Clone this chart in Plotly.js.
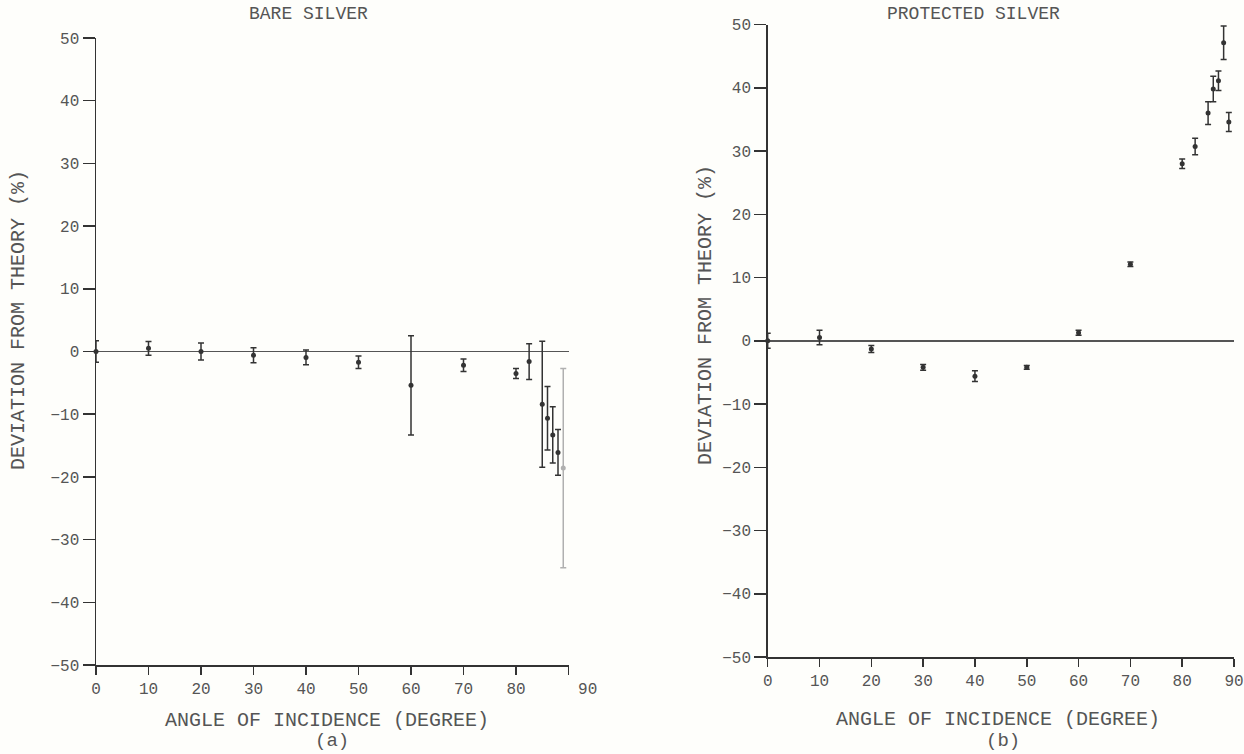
<!DOCTYPE html>
<html>
<head>
<meta charset="utf-8">
<script src="https://cdn.plot.ly/plotly-3.0.1.min.js"></script>
<style>
html,body{margin:0;padding:0;background:#fefefb;}
#chart{width:1244px;height:754px;}
</style>
</head>
<body>
<div id="chart"></div>
<script>
// Panel (a) bare silver
const angleBare = [0, 10, 20, 30, 40, 50, 60, 70, 80, 82.5, 85, 86, 87, 88];
const devBare   = [0, 0.5, 0, -0.6, -0.95, -1.7, -5.4, -2.2, -3.5, -1.6, -8.4, -10.65, -13.3, -16.1];
const errBare   = [1.7, 1.1, 1.35, 1.2, 1.17, 1.0, 7.9, 1.0, 0.8, 2.85, 10.05, 5.05, 4.5, 3.65];
const angleBareFaint = [89];
const devBareFaint   = [-18.6];
const errBareFaint   = [15.9];

// Panel (b) protected silver
const angleProt = [0, 10, 20, 30, 40, 50, 60, 70, 80, 82.5, 85, 86, 87, 88, 89];
const devProt   = [0, 0.5, -1.3, -4.2, -5.6, -4.2, 1.25, 12.1, 28.0, 30.7, 36.0, 39.8, 41.1, 47.1, 34.6];
const errProt   = [1.2, 1.15, 0.55, 0.45, 0.85, 0.3, 0.4, 0.35, 0.75, 1.3, 1.8, 2.0, 1.55, 2.65, 1.5];

const xTicks = [0, 10, 20, 30, 40, 50, 60, 70, 80, 90];
const xTickTextA = ['0', '10', '20', '30', '40', '50', '60', '70', '80', '    90'];
const xTickTextB = ['0', '10', '20', '30', '40', '50', '60', '70', '80', '90'];
const yTicks = [-50, -40, -30, -20, -10, 0, 10, 20, 30, 40, 50];

const panelTitles = ['BARE SILVER', 'PROTECTED SILVER'];
const xTitle = 'ANGLE OF INCIDENCE (DEGREE)';
const yTitle = 'DEVIATION FROM THEORY (%)';
const panelLabels = ['(a)', '(b)'];

const FONT = 'Liberation Mono, DejaVu Sans Mono, monospace';
const INK = '#333';
const TXT = '#555';

function errTrace(x, y, e, xa, ya, color) {
  return {
    type: 'scatter', mode: 'markers', x: x, y: y, xaxis: xa, yaxis: ya,
    cliponaxis: false, hoverinfo: 'skip', showlegend: false,
    marker: {size: 5, color: color},
    error_y: {type: 'data', array: e, visible: true, color: color, thickness: 1.5, width: 3}
  };
}

const data = [
  errTrace(angleBare, devBare, errBare, 'x', 'y', INK),
  errTrace(angleBareFaint, devBareFaint, errBareFaint, 'x', 'y', '#b0b0b0'),
  errTrace(angleProt, devProt, errProt, 'x2', 'y2', INK)
];

function xAxis(domain, anchor, texts) {
  return {
    domain: domain, anchor: anchor, range: [0, 90], tickvals: xTicks, ticktext: texts,
    showgrid: false, zeroline: false, showline: true, linecolor: INK, linewidth: 1.5,
    ticks: 'outside', ticklen: 8, tickwidth: 1.5, tickcolor: INK,
    tickfont: {family: FONT, size: 16, color: TXT}, fixedrange: true
  };
}
function yAxis(domain, anchor) {
  return {
    domain: domain, anchor: anchor, range: [-50, 50], tickvals: yTicks,
    showgrid: false, zeroline: true, zerolinecolor: '#555', zerolinewidth: 1.5,
    showline: true, linecolor: INK, linewidth: 1.5,
    ticks: 'outside', ticklen: 12, tickwidth: 1.5, tickcolor: INK,
    tickfont: {family: FONT, size: 16, color: TXT}, fixedrange: true
  };
}

const W = 1244, H = 754;
function ann(text, px, py, angle, size) {
  return {
    text: text, xref: 'paper', yref: 'paper', x: px / W, y: 1 - py / H,
    xanchor: 'center', yanchor: 'middle', showarrow: false, textangle: angle || 0,
    font: {family: FONT, size: size, color: TXT}
  };
}

const layout = {
  width: W, height: H,
  margin: {l: 0, r: 0, t: 0, b: 0},
  paper_bgcolor: '#fefefb', plot_bgcolor: 'rgba(0,0,0,0)',
  showlegend: false,
  xaxis: xAxis([96 / W, 568.5 / W], 'y', xTickTextA),
  yaxis: yAxis([(H - 665) / H, (H - 38) / H], 'x'),
  xaxis2: xAxis([767.7 / W, 1234 / W], 'y2', xTickTextB),
  yaxis2: yAxis([(H - 657) / H, (H - 24.5) / H], 'x2'),
  annotations: [
    ann(panelTitles[0], 308, 14, 0, 18),
    ann(panelTitles[1], 974, 14, 0, 18),
    ann(xTitle, 327, 720, 0, 20),
    ann(xTitle, 998, 719, 0, 20),
    ann(panelLabels[0], 332, 741, 0, 19),
    ann(panelLabels[1], 1003, 741, 0, 19),
    ann(yTitle, 18, 320, -90, 20),
    ann(yTitle, 706, 315, -90, 20)
  ]
};

Plotly.newPlot('chart', data, layout, {staticPlot: true, displayModeBar: false});
</script>
</body>
</html>
